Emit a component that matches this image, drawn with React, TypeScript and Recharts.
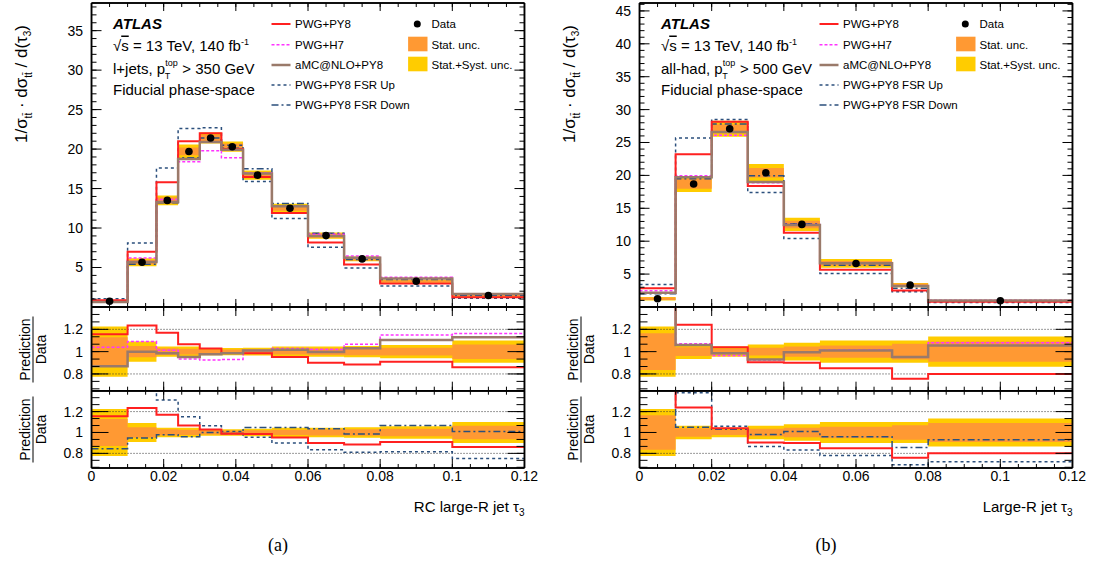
import React from 'react';
import { ComposedChart, Line, Area, Scatter, XAxis, YAxis, ReferenceLine } from 'recharts';

const W = 1094;
const H = 563;
const FONT = '"Liberation Sans", Arial, Helvetica, sans-serif';

const RED = '#ff2020';
const MAGENTA = '#ff33ff';
const BROWN = '#9a7a6a';
const BLUE = '#2b4f7c';
const ORANGE = '#ff9933';
const YELLOW = '#ffcc00';

// (a) l+jets, RC large-R jet tau3
const edgesA = [0, 0.01, 0.018, 0.024, 0.03, 0.036, 0.042, 0.05, 0.06, 0.07, 0.08, 0.1, 0.12];
const dataA = [0.73, 5.67, 13.5, 19.7, 21.4, 20.3, 16.7, 12.5, 9.04, 6.09, 3.26, 1.45];
const pwgPy8A = [0.84, 7.0, 15.8, 21.0, 22.0, 20.0, 16.45, 11.9, 8.17, 5.38, 2.97, 1.23];
const pwgH7A = [0.76, 6.2, 13.6, 18.4, 19.8, 18.9, 17.0, 12.8, 9.2, 6.45, 3.75, 1.68];
const amcA = [0.64, 5.7, 13.3, 18.75, 20.9, 19.9, 16.9, 12.75, 9.0, 6.25, 3.6, 1.63];
const fsrUpA = [1.05, 8.1, 17.6, 22.6, 22.7, 20.5, 15.9, 11.2, 7.55, 4.95, 2.66, 1.09];
const fsrDownA = [0.62, 5.4, 13.2, 18.9, 21.4, 20.1, 17.5, 13.1, 9.35, 6.0, 3.48, 1.46];
const statRelA = [0.13, 0.05, 0.03, 0.025, 0.02, 0.02, 0.022, 0.025, 0.03, 0.032, 0.035, 0.065];
const totRelA = [0.225, 0.09, 0.045, 0.045, 0.032, 0.032, 0.035, 0.045, 0.045, 0.05, 0.06, 0.1];
const ratioPwgPy8A = [1.155, 1.235, 1.17, 1.066, 1.028, 0.987, 0.985, 0.952, 0.9, 0.885, 0.91, 0.86];
const ratioPwgH7A = [1.04, 1.09, 1.013, 0.935, 0.925, 0.93, 1.01, 1.028, 1.02, 1.066, 1.15, 1.163];
const ratioAmcA = [0.87, 1.0, 0.985, 0.953, 0.977, 0.985, 1.01, 1.017, 0.997, 1.03, 1.105, 1.13];
const ratioFsrUpA = [1.5, 1.45, 1.31, 1.15, 1.065, 1.01, 0.955, 0.9, 0.835, 0.81, 0.815, 0.75];
const ratioFsrDownA = [0.845, 0.946, 0.978, 0.96, 1.0, 0.99, 1.048, 1.048, 1.035, 0.985, 1.067, 1.01];

// (b) all-had, large-R jet tau3
const edgesB = [0, 0.01, 0.02, 0.03, 0.04, 0.05, 0.07, 0.08, 0.12];
const dataB = [1.25, 18.7, 27.1, 20.4, 12.55, 6.62, 3.33, 0.95];
const pwgPy8B = [2.83, 23.2, 28.15, 18.4, 11.3, 5.65, 2.5, 0.78];
const pwgH7B = [2.46, 19.95, 26.1, 18.9, 12.55, 6.7, 3.2, 1.02];
const amcB = [2.16, 19.7, 26.6, 19.0, 12.45, 6.65, 3.17, 1.0];
const fsrUpB = [3.43, 25.7, 28.5, 17.4, 10.4, 5.1, 2.3, 0.68];
const fsrDownB = [2.0, 19.5, 27.8, 19.95, 12.65, 6.35, 2.85, 0.88];
const statRelB = [0.165, 0.04, 0.025, 0.035, 0.045, 0.055, 0.07, 0.09];
const totRelB = [0.225, 0.065, 0.045, 0.065, 0.08, 0.1, 0.1, 0.135];
const ratioPwgPy8B = [2.26, 1.24, 1.04, 0.905, 0.9, 0.85, 0.757, 0.8];
const ratioPwgH7B = [1.97, 1.07, 0.966, 0.925, 1.0, 1.017, 0.952, 1.08];
const ratioAmcB = [1.73, 1.06, 0.985, 0.93, 0.995, 1.01, 0.952, 1.055];
const ratioFsrUpB = [2.7, 1.38, 1.06, 0.866, 0.833, 0.78, 0.69, 0.72];
const ratioFsrDownB = [1.6, 1.05, 1.03, 0.98, 1.01, 0.96, 0.855, 0.93];

const xTicks = [0, 0.02, 0.04, 0.06, 0.08, 0.1, 0.12];
const yTicksA = [5, 10, 15, 20, 25, 30, 35];
const yTicksB = [5, 10, 15, 20, 25, 30, 35, 40, 45];
const ratioTicks = [0.8, 1, 1.2];

const steps = (a: number, b: number, step: number) =>
  Array.from({ length: Math.round((b - a) / step) + 1 }, (_, i) => +(a + i * step).toFixed(5));

const xMinor = steps(0, 0.12, 0.005);
const ratioMinor = steps(0.8 - 0.4 / 3, 1.4, 0.2 / 3);

// rows at bin edges, last bin repeated at the final edge (for stepAfter)
function stepRows(edges: number[], cols: Record<string, any[]>) {
  return edges.map((x, i) => {
    const k = Math.min(i, edges.length - 2);
    const row: any = { x };
    for (const key in cols) row[key] = cols[key][k];
    return row;
  });
}

const noLabel = () => '';
const tickFont = { fontSize: 14, fill: '#000', fontFamily: FONT };
const axisLine = { stroke: '#000', strokeWidth: 1.5 };
const tickLine = { stroke: '#000', strokeWidth: 1 };
const THIN = 0.01; // axes must have a non-zero size to be drawn

function axes(o: {
  yDomain: number[]; yMajor: number[]; yMinor: number[];
  ymaj: number; ymin: number; xmaj: number; xmin: number; xLabels: boolean;
}) {
  const common = { type: 'number' as const, allowDataOverflow: true, interval: 0 as const, axisLine, tickLine };
  const xc = { ...common, dataKey: 'x', domain: [0, 0.12], height: THIN };
  const yc = { ...common, domain: o.yDomain, width: THIN };
  return [
    <XAxis key="x" xAxisId="x" {...xc} orientation="bottom" ticks={xTicks} tickSize={-o.xmaj}
      tickMargin={o.xmaj + 3} tick={tickFont} tickFormatter={o.xLabels ? undefined : noLabel} />,
    <XAxis key="xb2" xAxisId="xb2" {...xc} orientation="bottom" ticks={xMinor} tickSize={-o.xmin} tickFormatter={noLabel} />,
    <XAxis key="xt" xAxisId="xt" {...xc} orientation="top" ticks={xTicks} tickSize={-o.xmaj} tickFormatter={noLabel} />,
    <XAxis key="xt2" xAxisId="xt2" {...xc} orientation="top" ticks={xMinor} tickSize={-o.xmin} tickFormatter={noLabel} />,
    <YAxis key="y" yAxisId="y" {...yc} orientation="left" ticks={o.yMajor} tickSize={-o.ymaj}
      tickMargin={o.ymaj + 8.5} tick={tickFont} />,
    <YAxis key="y2" yAxisId="y2" {...yc} orientation="left" ticks={o.yMinor} tickSize={-o.ymin} tickFormatter={noLabel} />,
    <YAxis key="yr" yAxisId="yr" {...yc} orientation="right" ticks={o.yMajor} tickSize={-o.ymaj} tickFormatter={noLabel} />,
    <YAxis key="yr2" yAxisId="yr2" {...yc} orientation="right" ticks={o.yMinor} tickSize={-o.ymin} tickFormatter={noLabel} />,
  ];
}

const ids = { xAxisId: 'x', yAxisId: 'y', isAnimationActive: false };

function bands() {
  return [
    <Area key="tot" {...ids} dataKey="tot" type="stepAfter" fill={YELLOW} fillOpacity={1} stroke="none" />,
    <Area key="stat" {...ids} dataKey="stat" type="stepAfter" fill={ORANGE} fillOpacity={1} stroke="none" />,
  ];
}

const lineStyles: Record<string, any> = {
  fsrUp: { stroke: BLUE, strokeWidth: 1.5, strokeDasharray: '3 3' },
  fsrDown: { stroke: BLUE, strokeWidth: 1.5, strokeDasharray: '7 3 2 3' },
  h7: { stroke: MAGENTA, strokeWidth: 1.5, strokeDasharray: '3 2' },
  py8: { stroke: RED, strokeWidth: 2 },
  amc: { stroke: BROWN, strokeWidth: 2.5 },
};

function lines(keys: string[]) {
  return keys.map((k) => (
    <Line key={k} {...ids} dataKey={k} type="stepAfter" dot={false} activeDot={false} {...lineStyles[k]} />
  ));
}

type Side = {
  L: number; R: number; edges: number[]; data: number[];
  py8: number[]; h7: number[]; amc: number[]; fsrUp: number[]; fsrDown: number[];
  statRel: number[]; totRel: number[];
  rPy8: number[]; rH7: number[]; rAmc: number[]; rFsrUp: number[]; rFsrDown: number[];
  yMax: number; yTicks: number[];
};

const Y_TOP = [3, 307];
const Y_R1 = [307, 390.7];
const Y_R2 = [390.7, 468];

function SideCharts({ s }: { s: Side }) {
  const topRows = stepRows(s.edges, {
    tot: s.data.map((d, i) => [d * (1 - s.totRel[i]), d * (1 + s.totRel[i])]),
    stat: s.data.map((d, i) => [d * (1 - s.statRel[i]), d * (1 + s.statRel[i])]),
    py8: s.py8, h7: s.h7, amc: s.amc, fsrUp: s.fsrUp, fsrDown: s.fsrDown,
  });
  const ratioRows = stepRows(s.edges, {
    tot: s.totRel.map((r) => [1 - r, 1 + r]),
    stat: s.statRel.map((r) => [1 - r, 1 + r]),
    py8: s.rPy8, h7: s.rH7, amc: s.rAmc, fsrUp: s.rFsrUp, fsrDown: s.rFsrDown,
  });
  const pts = s.data.map((y, i) => ({ x: (s.edges[i] + s.edges[i + 1]) / 2, y }));
  const margin = (yy: number[]) => ({ top: yy[0], bottom: H - yy[1], left: s.L, right: W - s.R });
  const abs: React.CSSProperties = { position: 'absolute', left: 0, top: 0 };
  const refs = ratioTicks.filter((t) => t !== 1).map((t) => (
    <ReferenceLine key={'r' + t} xAxisId="x" yAxisId="y" y={t} stroke="#333" strokeDasharray="1 2" />
  ));

  return (
    <>
      <div style={abs}>
        <ComposedChart width={W} height={H} data={topRows} margin={margin(Y_TOP)}>
          {axes({ yDomain: [0, s.yMax], yMajor: s.yTicks, yMinor: steps(0, Math.floor(s.yMax), 1), ymaj: 10, ymin: 5, xmaj: 8, xmin: 4, xLabels: false })}
          {bands()}
          {lines(['fsrUp', 'fsrDown', 'h7', 'py8', 'amc'])}
          <Scatter xAxisId="x" yAxisId="y" data={pts} dataKey="y" isAnimationActive={false}
            shape={(p: any) => <circle cx={p.cx} cy={p.cy} r={3.8} fill="#000" />} />
        </ComposedChart>
      </div>
      <div style={abs}>
        <ComposedChart width={W} height={H} data={ratioRows} margin={margin(Y_R1)}>
          {axes({ yDomain: [0.65, 1.4], yMajor: ratioTicks, yMinor: ratioMinor, ymaj: 17, ymin: 8, xmaj: 9, xmin: 4, xLabels: false })}
          {bands()}
          {refs}
          {lines(['h7', 'py8', 'amc'])}
        </ComposedChart>
      </div>
      <div style={abs}>
        <ComposedChart width={W} height={H} data={ratioRows} margin={margin(Y_R2)}>
          {axes({ yDomain: [0.66, 1.4], yMajor: ratioTicks, yMinor: ratioMinor, ymaj: 17, ymin: 8, xmaj: 9, xmin: 4, xLabels: true })}
          {bands()}
          {refs}
          {lines(['fsrUp', 'fsrDown', 'py8'])}
        </ComposedChart>
      </div>
    </>
  );
}

const legendModels = [
  { label: 'PWG+PY8', style: lineStyles.py8 },
  { label: 'PWG+H7', style: lineStyles.h7 },
  { label: 'aMC@NLO+PY8', style: lineStyles.amc },
  { label: 'PWG+PY8 FSR Up', style: lineStyles.fsrUp },
  { label: 'PWG+PY8 FSR Down', style: lineStyles.fsrDown },
];
const legendRowsY = [24, 44.7, 65, 85, 105];

function Texts({ L, R, channel, cut, xTitle, tag }: { L: number; R: number; channel: string; cut: string; xTitle: string; tag: string }) {
  const sub = 10;
  return (
    <g fontFamily={FONT} fill="#000">
      <text x={L + 21.5} y={29} fontSize={15} fontWeight="bold" fontStyle="italic">ATLAS</text>
      <text x={L + 21.5} y={50.5} fontSize={15}>
        √<tspan textDecoration="overline">s</tspan> = 13 TeV, 140 fb<tspan dy={-6} fontSize={9}>-1</tspan>
      </text>
      <text x={L + 21.5} y={73.5} fontSize={15}>
        {channel}, p<tspan dy={-8} fontSize={9}>top</tspan>
        <tspan dx={-13} dy={13} fontSize={9}>T</tspan>
        <tspan dx={8} dy={-5}> &gt; {cut} GeV</tspan>
      </text>
      <text x={L + 21.5} y={95} fontSize={15}>Fiducial phase-space</text>

      {legendModels.map((m, i) => (
        <g key={m.label}>
          <line x1={L + 180} x2={L + 199} y1={legendRowsY[i]} y2={legendRowsY[i]} {...m.style} />
          <text x={L + 203.5} y={legendRowsY[i] + 4} fontSize={11.5}>{m.label}</text>
        </g>
      ))}
      <circle cx={L + 325.8} cy={24} r={3.5} fill="#000" />
      <text x={L + 340} y={28} fontSize={11.5}>Data</text>
      <rect x={L + 316.6} y={36.7} width={19.4} height={14.6} fill={ORANGE} />
      <text x={L + 340} y={48.5} fontSize={11.5}>Stat. unc.</text>
      <rect x={L + 316.6} y={56.7} width={19.4} height={14.6} fill={YELLOW} />
      <text x={L + 340} y={68.5} fontSize={11.5}>Stat.+Syst. unc.</text>

      <text transform={`translate(${L - 65},84) rotate(-90)`} textAnchor="middle" fontSize={17}>
        1/σ<tspan dy={5} fontSize={sub}>tt̄</tspan><tspan dy={-5}> · dσ</tspan>
        <tspan dy={5} fontSize={sub}>tt̄</tspan><tspan dy={-5}> / d(τ</tspan>
        <tspan dy={4} fontSize={sub}>3</tspan><tspan dy={-4}>)</tspan>
      </text>
      {[349.5, 429.5].map((cy) => (
        <g key={cy} transform={`translate(${L - 58.5},${cy}) rotate(-90)`}>
          <text x={0} y={-3} textAnchor="middle" fontSize={14}>Prediction</text>
          <line x1={-33} x2={33} y1={0} y2={0} stroke="#000" strokeWidth={1} />
          <text x={0} y={13} textAnchor="middle" fontSize={14}>Data</text>
        </g>
      ))}
      <text x={R} y={512} textAnchor="end" fontSize={15}>
        {xTitle}<tspan dy={4} fontSize={10}>3</tspan>
      </text>
      <text x={(L + R) / 2 - 30} y={551} textAnchor="middle" fontSize={18} fontFamily='"Liberation Serif", "Times New Roman", serif'>{tag}</text>
    </g>
  );
}

const sideA: Side = {
  L: 91.5, R: 524.5, edges: edgesA, data: dataA,
  py8: pwgPy8A, h7: pwgH7A, amc: amcA, fsrUp: fsrUpA, fsrDown: fsrDownA,
  statRel: statRelA, totRel: totRelA,
  rPy8: ratioPwgPy8A, rH7: ratioPwgH7A, rAmc: ratioAmcA, rFsrUp: ratioFsrUpA, rFsrDown: ratioFsrDownA,
  yMax: 38.5, yTicks: yTicksA,
};
const sideB: Side = {
  L: 639.5, R: 1072.5, edges: edgesB, data: dataB,
  py8: pwgPy8B, h7: pwgH7B, amc: amcB, fsrUp: fsrUpB, fsrDown: fsrDownB,
  statRel: statRelB, totRel: totRelB,
  rPy8: ratioPwgPy8B, rH7: ratioPwgH7B, rAmc: ratioAmcB, rFsrUp: ratioFsrUpB, rFsrDown: ratioFsrDownB,
  yMax: 46.2, yTicks: yTicksB,
};

export default function App() {
  return (
    <div style={{ position: 'absolute', left: 0, top: 0, width: W, height: H, background: '#fff', fontFamily: FONT, overflow: 'hidden' }}>
      <SideCharts s={sideA} />
      <SideCharts s={sideB} />
      <svg width={W} height={H} style={{ position: 'absolute', left: 0, top: 0, pointerEvents: 'none' }}>
        <Texts L={sideA.L} R={sideA.R} channel="l+jets" cut="350" xTitle="RC large-R jet τ" tag="(a)" />
        <Texts L={sideB.L} R={sideB.R} channel="all-had" cut="500" xTitle="Large-R jet τ" tag="(b)" />
      </svg>
    </div>
  );
}
